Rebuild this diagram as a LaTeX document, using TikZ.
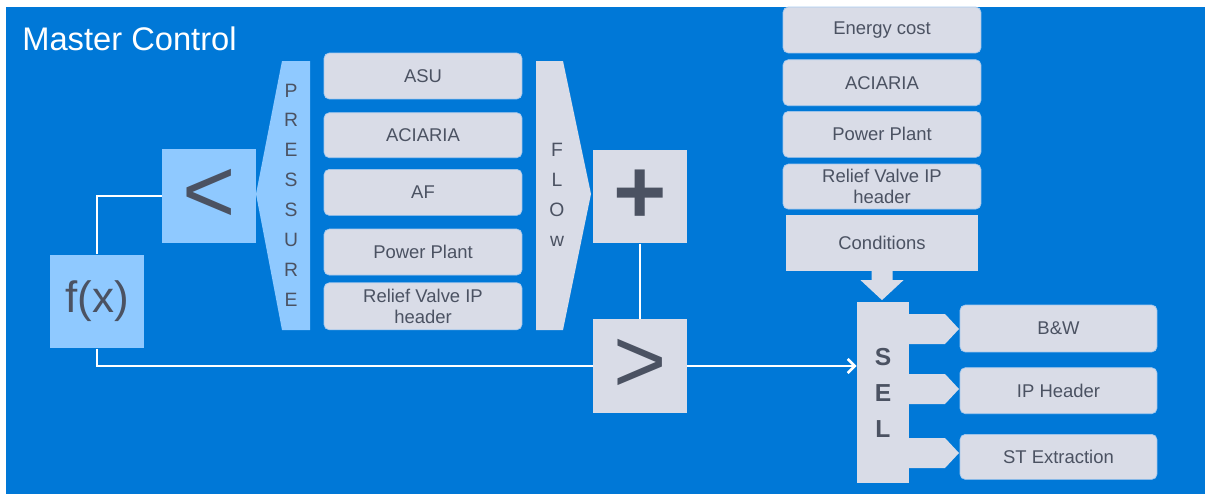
\documentclass[tikz,border=0pt]{standalone}
\usepackage{fontspec}
\setmainfont{Liberation Sans}
\usetikzlibrary{positioning, arrows.meta}
\definecolor{panelblue}{HTML}{0078D7}
\definecolor{lightblue}{HTML}{8FC9FF}
\definecolor{boxgray}{HTML}{D9DCE7}
\definecolor{edgeblue}{HTML}{A6C9EE}
\definecolor{textgray}{HTML}{4B5262}
\tikzset{
    >={Straight Barb[length=4pt,width=8pt]}, % open arrow head into the selector
    listbox/.style={rectangle, rounded corners=3pt, fill=boxgray, draw=edgeblue, line width=0.4pt,
        minimum width=3.96cm, minimum height=0.92cm, inner sep=1pt, align=center, text=textgray,
        font=\fontsize{10.5}{11.8}\selectfont}, % the rounded input / output boxes
    condbox/.style={rectangle, fill=boxgray, minimum width=3.84cm, minimum height=1.12cm,
        text=textgray, font=\fontsize{10.5}{12}\selectfont}, % the conditions block
    opbox/.style={rectangle, minimum width=1.88cm, minimum height=1.87cm, inner sep=0pt,
        text=textgray, font=\fontsize{52}{52}\selectfont}, % the square operator blocks
    vtext/.style={align=center, inner sep=0pt, text=textgray,
        font=\fontsize{11}{17}\selectfont}, % letters written down a bar
    wire/.style={draw=white, line width=1.5pt}, % the white signal lines
}
\begin{document}
\begin{tikzpicture}[x=0.02cm, y=-0.02cm]

        \useasboundingbox (0,0) rectangle (1205,494);
        \fill[panelblue] (6,7) rectangle (1205,494);

        % Title
        \node[anchor=base west, inner sep=0pt, text=white, font=\fontsize{18.6}{22}\selectfont] (title) at (22,50) {Master Control};

        % Pressure and flow bars
        \fill[lightblue] (282,61) -- (310,61) -- (310,330) -- (282,330) -- (256,194) -- cycle;
        \node[vtext] (pressure) at (291,195) {P\\R\\E\\S\\S\\U\\R\\E};
        \fill[boxgray] (536,61) -- (563,61) -- (591,194) -- (563,330) -- (536,330) -- cycle;
        \node[vtext] (flow) at (557,195) {F\\L\\O\\w};

        % Consumers
        \node[listbox] (asu) at (423,76) {ASU};
        \node[listbox, below=0.26cm of asu, minimum height=0.9cm] (aciaria) {ACIARIA};
        \node[listbox, below=0.22cm of aciaria] (af) {AF};
        \node[listbox, below=0.26cm of af] (plant) {Power Plant};
        \node[listbox, below=0.14cm of plant, minimum height=0.94cm] (relief) {Relief Valve IP\\header};

        % Operators
        \node[opbox, fill=lightblue] (less) at (209,196) {<};
        \node[opbox, fill=lightblue, font=\fontsize{25}{25}\selectfont] (fx) at (97,301.5) {f(x)};
        \node[opbox, fill=boxgray, font=\fontsize{52}{52}\selectfont\bfseries] (plus) at (640,196.5) {+};
        \node[opbox, fill=boxgray] (more) at (640,366) {>};

        % Conditions
        \node[listbox] (cost) at (882,30) {Energy cost};
        \node[listbox, below=0.12cm of cost] (aciaria2) {ACIARIA};
        \node[listbox, below=0.1cm of aciaria2] (plant2) {Power Plant};
        \node[listbox, below=0.12cm of plant2, minimum height=0.9cm] (relief2) {Relief Valve IP\\header};
        \node[condbox, below=0.1cm of relief2] (cond) {Conditions};
        \fill[boxgray] ([xshift=-0.21cm]cond.south) -- ++(0,9) -- ++(-11,0) -- ++(21.5,20)
            -- ++(21.5,-20) -- ++(-11,0) -- ++(0,-9) -- cycle;

        % Selector and outputs
        \node[rectangle, fill=boxgray, minimum width=1.04cm, minimum height=3.62cm, align=center,
            text=textgray, font=\fontsize{14}{20.5}\selectfont\bfseries] (sel) at (883,392.5) {S\\E\\L};
        \foreach \y in {329,389,453}
            \fill[boxgray] (909,\y-15) -- (945,\y-15) -- (959,\y) -- (945,\y+15) -- (909,\y+15) -- cycle;
        \node[listbox, minimum width=3.94cm, minimum height=0.94cm] (bw) at (1058.5,328.5) {B\&W};
        \node[listbox, minimum width=3.94cm, below=0.3cm of bw] (iphead) {IP Header};
        \node[listbox, minimum width=3.94cm, below=0.4cm of iphead, minimum height=0.9cm] (stext) {ST Extraction};

        % Lines
        \draw[wire] (fx.north) |- (less.west);
        \draw[wire] (fx.south) |- (more.west);
        \draw[wire] (plus.south) -- (more.north);
        \draw[wire, ->] (more.east) -- (more.east -| sel.west);

\end{tikzpicture}
\end{document}
